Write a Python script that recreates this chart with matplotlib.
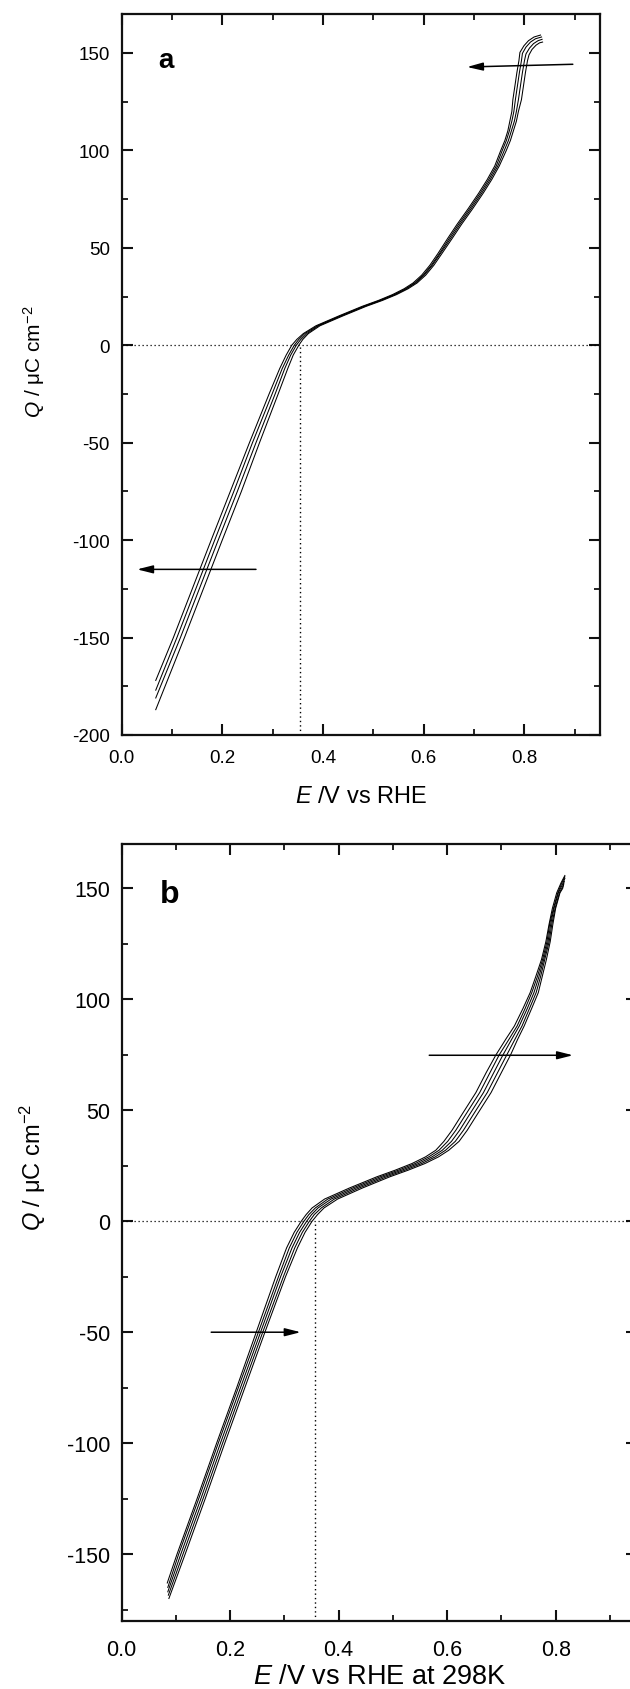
import matplotlib
matplotlib.use("Agg")
import matplotlib.pyplot as plt
from matplotlib.ticker import MultipleLocator, FormatStrFormatter

plt.rcParams["font.family"] = ["Liberation Sans", "DejaVu Sans"]
plt.rcParams["mathtext.fontset"] = "custom"
plt.rcParams["mathtext.rm"] = "Liberation Sans"
plt.rcParams["mathtext.it"] = "Liberation Sans:italic"
plt.rcParams["mathtext.bf"] = "Liberation Sans:bold"
plt.rcParams["axes.unicode_minus"] = False

# ---------------- panel a : charge curves (E in V, Q in uC cm-2) ----------------
q_grid_a = [-150, -130, -100, -75, -50, -25, -12, -5, 0, 3, 6, 10, 15, 20, 23, 26,
            29, 32, 36, 41, 47, 55, 62, 70, 78, 85, 92, 100, 105, 110, 115, 120,
            126, 133, 140, 146]

a1_start = (0.068, -172)
a1_e = [0.103, 0.133, 0.178, 0.216, 0.254, 0.293, 0.314, 0.327, 0.338, 0.348, 0.361,
        0.386, 0.431, 0.478, 0.510, 0.538, 0.561, 0.579, 0.596, 0.612, 0.628, 0.648,
        0.666, 0.688, 0.709, 0.726, 0.741, 0.753, 0.761, 0.767, 0.771, 0.775, 0.777,
        0.781, 0.785, 0.789]
a1_tail_e = [0.791, 0.799, 0.808, 0.819, 0.832]
a1_tail_q = [150.3, 153.7, 156.3, 158.2, 159.2]

a2_start = (0.068, -177)
a2_e = [0.110, 0.140, 0.185, 0.223, 0.260, 0.299, 0.319, 0.332, 0.343, 0.352, 0.364,
        0.389, 0.434, 0.481, 0.513, 0.541, 0.564, 0.582, 0.599, 0.615, 0.631, 0.651,
        0.669, 0.691, 0.712, 0.729, 0.744, 0.756, 0.764, 0.770, 0.775, 0.779, 0.782,
        0.786, 0.790, 0.794]
a2_tail_e = [0.796, 0.803, 0.812, 0.822, 0.834]
a2_tail_q = [149.8, 153.0, 155.6, 157.3, 158.2]

a3_start = (0.068, -181)
a3_e = [0.117, 0.147, 0.192, 0.230, 0.267, 0.305, 0.324, 0.336, 0.347, 0.356, 0.368,
        0.391, 0.436, 0.483, 0.515, 0.543, 0.566, 0.584, 0.601, 0.617, 0.633, 0.654,
        0.672, 0.694, 0.715, 0.732, 0.747, 0.760, 0.768, 0.774, 0.780, 0.784, 0.788,
        0.792, 0.796, 0.800]
a3_tail_e = [0.803, 0.810, 0.818, 0.827, 0.835]
a3_tail_q = [149.5, 152.5, 154.8, 156.3, 157.0]

a4_start = (0.068, -187)
a4_e = [0.125, 0.155, 0.200, 0.238, 0.274, 0.311, 0.330, 0.341, 0.352, 0.360, 0.371,
        0.394, 0.439, 0.486, 0.518, 0.546, 0.569, 0.587, 0.604, 0.620, 0.636, 0.657,
        0.675, 0.697, 0.718, 0.735, 0.750, 0.764, 0.772, 0.778, 0.784, 0.788, 0.794,
        0.798, 0.802, 0.806]
a4_tail_e = [0.809, 0.815, 0.823, 0.830, 0.836]
a4_tail_q = [149.0, 151.8, 154.0, 155.2, 155.6]

# ---------------- panel b : charge curves at 298 K ----------------
q_grid_b = [-150, -125, -100, -75, -50, -25, -12, -5, 0, 3, 6, 10, 15, 20, 23, 26,
            29, 32, 36, 41, 48, 58, 67, 75, 82, 88, 96, 103, 110, 118, 126, 134,
            141, 148]

b1_start = (0.084, -163)
b1_e = [0.102, 0.139, 0.175, 0.212, 0.248, 0.284, 0.304, 0.318, 0.331, 0.340, 0.351,
        0.374, 0.420, 0.470, 0.504, 0.535, 0.560, 0.579, 0.594, 0.609, 0.627, 0.653,
        0.672, 0.690, 0.708, 0.724, 0.740, 0.753, 0.763, 0.774, 0.782, 0.788, 0.794,
        0.802]
b1_tail_e = [0.810, 0.817]
b1_tail_q = [152.5, 155.8]

b2_start = (0.085, -165)
b2_e = [0.105, 0.142, 0.178, 0.215, 0.252, 0.289, 0.309, 0.323, 0.336, 0.345, 0.357,
        0.380, 0.426, 0.476, 0.510, 0.541, 0.566, 0.585, 0.601, 0.616, 0.634, 0.660,
        0.679, 0.696, 0.714, 0.729, 0.744, 0.756, 0.766, 0.776, 0.784, 0.789, 0.796,
        0.804]
b2_tail_e = [0.811, 0.817]
b2_tail_q = [152.2, 155.2]

b3_start = (0.085, -167)
b3_e = [0.109, 0.146, 0.182, 0.219, 0.256, 0.293, 0.314, 0.328, 0.341, 0.350, 0.362,
        0.386, 0.432, 0.482, 0.516, 0.547, 0.572, 0.591, 0.608, 0.623, 0.641, 0.667,
        0.686, 0.703, 0.719, 0.733, 0.748, 0.760, 0.769, 0.778, 0.786, 0.791, 0.797,
        0.805]
b3_tail_e = [0.812, 0.817]
b3_tail_q = [151.5, 154.5]

b4_start = (0.086, -168.5)
b4_e = [0.113, 0.150, 0.186, 0.223, 0.260, 0.298, 0.319, 0.333, 0.346, 0.355, 0.368,
        0.392, 0.438, 0.488, 0.522, 0.553, 0.578, 0.597, 0.615, 0.630, 0.648, 0.674,
        0.693, 0.710, 0.725, 0.738, 0.752, 0.764, 0.772, 0.780, 0.788, 0.793, 0.799,
        0.807]
b4_tail_e = [0.813, 0.816]
b4_tail_q = [150.8, 153.2]

b5_start = (0.087, -170)
b5_e = [0.117, 0.154, 0.190, 0.227, 0.264, 0.302, 0.324, 0.338, 0.351, 0.361, 0.373,
        0.398, 0.444, 0.494, 0.528, 0.559, 0.584, 0.603, 0.622, 0.637, 0.655, 0.681,
        0.700, 0.717, 0.730, 0.742, 0.756, 0.768, 0.775, 0.783, 0.790, 0.795, 0.800,
        0.808]
b5_tail_e = [0.813, 0.815]
b5_tail_q = [150.0, 152.0]

# zero-charge potential marked by the dotted guides
e_pzc_a = 0.354
e_pzc_b = 0.356

# scan-direction arrows: (E_tail, Q_tail, E_head, Q_head)
arrows_a = [(0.896, 144.2, 0.686, 142.8), (0.267, -115, 0.031, -115)]
arrows_b = [(0.567, 74.8, 0.832, 74.8), (0.165, -50, 0.33, -50)]

x_label_a = "$E$ /V vs RHE"
x_label_b = "$E$ /V vs RHE at 298K"
y_label = "$Q$ / \u03bcC cm$^{-2}$"


def curve(start, grid, e_vals, tail_e, tail_q):
    es = [start[0]] + list(e_vals) + list(tail_e)
    qs = [start[1]] + list(grid) + list(tail_q)
    return es, qs


def style_axes(ax, ylim, tick_fs, xpad, ypad):
    ax.set_xlim(0, 0.95)
    ax.set_ylim(*ylim)
    ax.xaxis.set_major_locator(MultipleLocator(0.2))
    ax.xaxis.set_minor_locator(MultipleLocator(0.1))
    ax.yaxis.set_major_locator(MultipleLocator(50))
    ax.yaxis.set_minor_locator(MultipleLocator(25))
    ax.xaxis.set_major_formatter(FormatStrFormatter("%.1f"))
    ax.tick_params(which="both", direction="in", top=True, right=True, color="#111111")
    ax.tick_params(which="major", length=8, width=1.5)
    ax.tick_params(which="minor", length=4.5, width=1.3)
    ax.tick_params(axis="x", pad=xpad, labelsize=tick_fs)
    ax.tick_params(axis="y", pad=ypad, labelsize=tick_fs)
    for s in ax.spines.values():
        s.set_linewidth(1.6)
        s.set_color("#111111")


def draw_arrow(ax, tail_e, tail_q, head_e, head_q):
    ax.annotate("", xy=(head_e, head_q), xytext=(tail_e, tail_q),
                arrowprops=dict(arrowstyle="-|>,head_length=0.95,head_width=0.24",
                                lw=1.1, color="black", shrinkA=0, shrinkB=0))


W, H = 630, 1690
fig = plt.figure(figsize=(W / 100, H / 100), dpi=100)

# ---- panel a ----
ax_a = fig.add_axes([121.5 / W, (H - 736) / H, 478.5 / W, 721 / H])
style_axes(ax_a, (-200, 170), 13.5, 10, 8.3)
for args in [(a1_start, q_grid_a, a1_e, a1_tail_e, a1_tail_q),
             (a2_start, q_grid_a, a2_e, a2_tail_e, a2_tail_q),
             (a3_start, q_grid_a, a3_e, a3_tail_e, a3_tail_q),
             (a4_start, q_grid_a, a4_e, a4_tail_e, a4_tail_q)]:
    e, q = curve(*args)
    ax_a.plot(e, q, color="black", lw=0.75)
ax_a.axhline(0, color="black", lw=0.9, ls=(0, (1, 2.2)))
ax_a.plot([e_pzc_a, e_pzc_a], [-200, 0], color="black", lw=1.0, ls=(0, (1, 2.2)))
for arr in arrows_a:
    draw_arrow(ax_a, *arr)
ax_a.text(0.077, 0.9265, "a", transform=ax_a.transAxes, fontsize=20,
          fontweight="bold", ha="left", va="baseline")
ax_a.set_xlabel(x_label_a, fontsize=17)
ax_a.xaxis.set_label_coords(0.5, -0.070)
ax_a.set_ylabel(y_label, fontsize=15)
ax_a.yaxis.set_label_coords(-0.156, 0.519)

# ---- panel b ----
ax_b = fig.add_axes([121.7 / W, (H - 1621.7) / H, 515.3 / W, 776.7 / H])
style_axes(ax_b, (-180, 170), 15.5, 13, 8.4)
for args in [(b1_start, q_grid_b, b1_e, b1_tail_e, b1_tail_q),
             (b2_start, q_grid_b, b2_e, b2_tail_e, b2_tail_q),
             (b3_start, q_grid_b, b3_e, b3_tail_e, b3_tail_q),
             (b4_start, q_grid_b, b4_e, b4_tail_e, b4_tail_q),
             (b5_start, q_grid_b, b5_e, b5_tail_e, b5_tail_q)]:
    e, q = curve(*args)
    ax_b.plot(e, q, color="black", lw=0.75)
ax_b.axhline(0, color="black", lw=0.9, ls=(0, (1, 2.2)))
ax_b.plot([e_pzc_b, e_pzc_b], [-180, 0], color="black", lw=1.0, ls=(0, (1, 2.2)))
for arr in arrows_b:
    draw_arrow(ax_b, *arr)
ax_b.text(0.0743, 0.9253, "b", transform=ax_b.transAxes, fontsize=23,
          fontweight="bold", ha="left", va="baseline")
ax_b.set_xlabel(x_label_b, fontsize=19.5)
ax_b.xaxis.set_label_coords(0.5, -0.054)
ax_b.set_ylabel(y_label, fontsize=17)
ax_b.yaxis.set_label_coords(-0.143, 0.585)

fig.savefig("out.png", dpi=100, facecolor="white")
